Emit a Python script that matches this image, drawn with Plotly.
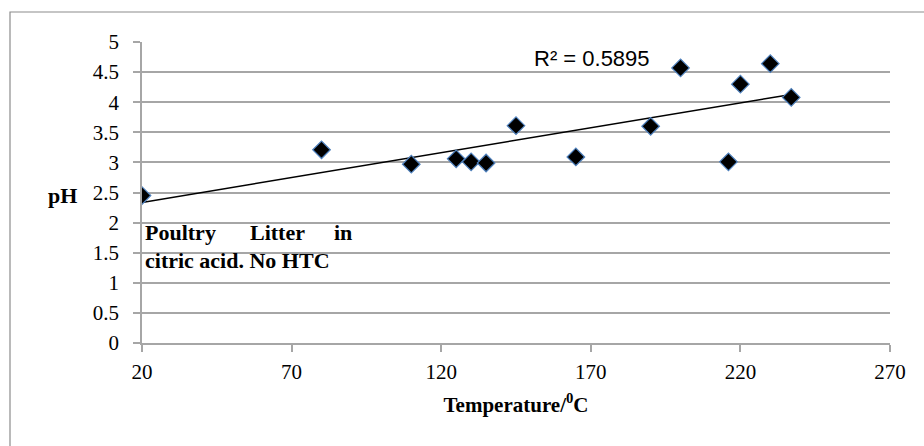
import numpy as np
import plotly.graph_objects as go

# Data
temperature = [20, 80, 110, 125, 130, 135, 145, 165, 190, 200, 216, 220, 230, 237]
ph = [2.45, 3.21, 2.97, 3.06, 3.01, 2.99, 3.61, 3.09, 3.60, 4.57, 3.01, 4.30, 4.64, 4.08]
r2_label = "R\u00b2 = 0.5895"
x_ticks = [20, 70, 120, 170, 220, 270]
y_ticks = [0, 0.5, 1, 1.5, 2, 2.5, 3, 3.5, 4, 4.5, 5]
y_tick_text = ["0", "0.5", "1", "1.5", "2", "2.5", "3", "3.5", "4", "4.5", "5"]

W, H = 924, 446
ML, MR, MT, MB = 142, 34, 42, 103
PW, PH = W - ML - MR, H - MT - MB


def px(x):
    return (x - ML) / PW


def py(y):
    return (H - MB - y) / PH


slope, intercept = np.polyfit(temperature, ph, 1)
tx = [min(temperature), max(temperature)]
ty = [slope * v + intercept for v in tx]

serif = "Liberation Serif, Times New Roman, serif"
grid_col = "#a6a6a6"

fig = go.Figure()
fig.add_trace(go.Scatter(x=tx, y=ty, mode="lines",
                         line=dict(color="black", width=1.5),
                         hoverinfo="skip", showlegend=False))
fig.add_trace(go.Scatter(x=temperature, y=ph, mode="markers",
                         marker=dict(symbol="diamond", size=13.5, color="black",
                                     line=dict(color="#4f81bd", width=1.2)),
                         showlegend=False))

fig.update_layout(
    width=W, height=H,
    margin=dict(l=ML, r=MR, t=MT, b=MB, pad=0),
    paper_bgcolor="white", plot_bgcolor="white",
    font=dict(family=serif, size=21, color="black"),
    xaxis=dict(range=[20, 270], tickvals=x_ticks, ticktext=[str(v) for v in x_ticks],
               showgrid=False, zeroline=False, showline=True, linecolor=grid_col,
               linewidth=1.5, ticks="outside", ticklen=7, tickcolor=grid_col,
               tickwidth=1.5, ticklabelstandoff=2,
               title=dict(text="<b>Temperature/<sup>0</sup>C</b>", standoff=14,
                          font=dict(family=serif, size=21))),
    yaxis=dict(range=[0, 5], tickvals=y_ticks, ticktext=y_tick_text,
               showgrid=True, gridcolor=grid_col, gridwidth=1.5, zeroline=False,
               showline=True, linecolor=grid_col, linewidth=1.5,
               ticks="outside", ticklen=7, tickcolor=grid_col, tickwidth=1.5,
               ticklabelstandoff=10),
    shapes=[dict(type="rect", xref="paper", yref="paper",
                 x0=px(10), x1=px(940), y0=py(470), y1=py(12),
                 line=dict(color="#8c8c8c", width=1.2), layer="below")],
    annotations=[
        dict(text=r2_label, x=px(532), y=py(58), xref="paper", yref="paper",
             xanchor="left", yanchor="middle", showarrow=False,
             font=dict(family="Liberation Sans, Arial, sans-serif", size=22)),
        dict(text="<b>pH</b>", x=px(62), y=py(195), xref="paper", yref="paper",
             xanchor="center", yanchor="middle", showarrow=False,
             font=dict(family=serif, size=22)),
        dict(text="<b>Poultry</b>", x=px(143), y=py(232), xref="paper", yref="paper",
             xanchor="left", yanchor="middle", showarrow=False,
             font=dict(family=serif, size=22)),
        dict(text="<b>Litter</b>", x=px(248), y=py(232), xref="paper", yref="paper",
             xanchor="left", yanchor="middle", showarrow=False,
             font=dict(family=serif, size=22)),
        dict(text="<b>in</b>", x=px(354), y=py(232), xref="paper", yref="paper",
             xanchor="right", yanchor="middle", showarrow=False,
             font=dict(family=serif, size=22)),
        dict(text="<b>citric acid. No HTC</b>", x=px(143), y=py(260), xref="paper",
             yref="paper", xanchor="left", yanchor="middle", showarrow=False,
             font=dict(family=serif, size=22)),
    ],
)

fig.write_html("out.html")
